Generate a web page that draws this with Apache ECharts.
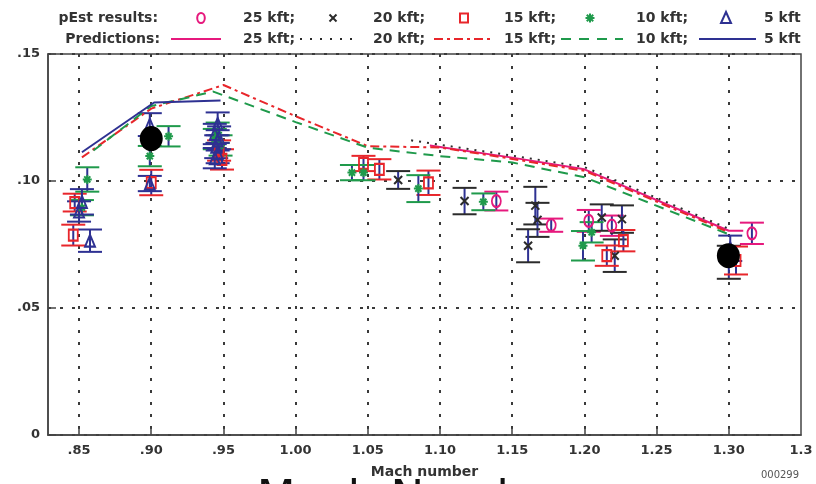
<!DOCTYPE html>
<html><head><meta charset="utf-8">
<script src="https://cdn.jsdelivr.net/npm/echarts@6/dist/echarts.min.js"></script>
<style>html,body{margin:0;padding:0;background:#fff}#c{width:816px;height:484px}</style>
</head><body><div id="c"></div>
<script>
// ---- axis ticks ----
const xTicks = [0.85, 0.90, 0.95, 1.00, 1.05, 1.10, 1.15, 1.20, 1.25, 1.30, 1.35];
const xTickLabels = ['.85', '.90', '.95', '1.00', '1.05', '1.10', '1.15', '1.20', '1.25', '1.30', '1.3'];
const yTicks = [0, 0.05, 0.10, 0.15];
const yTickLabels = ['0', '.05', '.10', '.15'];
const altitudes = ['25 kft;', '20 kft;', '15 kft;', '10 kft;', '5 kft'];

// ---- pEst results: [Mach, value, half error] ----
const pEst25 = [[1.139, 0.0921, 0.0037], [1.177, 0.0826, 0.0026], [1.203, 0.0843, 0.0043], [1.219, 0.0824, 0.0040], [1.316, 0.0794, 0.0042]];
const pEst20 = [[1.071, 0.1004, 0.0035], [1.117, 0.0921, 0.0052], [1.166, 0.0903, 0.0074], [1.1675, 0.0847, 0.0067], [1.161, 0.0745, 0.0065],
  [1.212, 0.0856, 0.0052], [1.226, 0.0850, 0.0054], [1.221, 0.0706, 0.0064], [1.300, 0.0680, 0.0065]];
const pEst15 = [[0.846, 0.0787, 0.0041], [0.847, 0.0915, 0.0035], [0.900, 0.0994, 0.0050], [0.947, 0.1120, 0.0040], [0.949, 0.1085, 0.0040],
  [1.047, 0.1069, 0.0030], [1.058, 0.1046, 0.0040], [1.092, 0.0993, 0.0048], [1.227, 0.0765, 0.0042], [1.2155, 0.0706, 0.0040], [1.305, 0.0687, 0.0055]];
const pEst10 = [[0.8557, 0.1006, 0.0048], [0.852, 0.0895, 0.0030], [0.899, 0.1098, 0.0040], [0.912, 0.1176, 0.0040],
  [0.946, 0.1190, 0.0040], [0.948, 0.1140, 0.0040], [0.944, 0.1165, 0.0040],
  [1.039, 0.1033, 0.0030], [1.047, 0.1033, 0.0030], [1.085, 0.0970, 0.0053], [1.130, 0.0918, 0.0033], [1.205, 0.0798, 0.0040], [1.199, 0.0745, 0.0058]];
const pEst5 = [[0.852, 0.0918, 0.0050], [0.8576, 0.0765, 0.0044], [0.850, 0.0880, 0.0040], [0.899, 0.1222, 0.0045], [0.899, 0.0990, 0.0030],
  [0.946, 0.1225, 0.0045], [0.944, 0.1185, 0.0040], [0.946, 0.1160, 0.0040], [0.945, 0.1135, 0.0045], [0.946, 0.1110, 0.0040],
  [0.944, 0.1090, 0.0040], [0.947, 0.1170, 0.0045], [1.301, 0.0735, 0.0050]];

// ---- predictions: [Mach, value] ----
const pred25 = [[1.093, 0.1140], [1.15, 0.1092], [1.20, 0.1046], [1.30, 0.0804], [1.31, 0.0804]];
const pred20 = [[1.08, 0.1160], [1.15, 0.1100], [1.20, 0.1055], [1.30, 0.0812]];
const pred15 = [[0.852, 0.1093], [0.90, 0.1285], [0.95, 0.1378], [1.00, 0.1255], [1.05, 0.1137], [1.10, 0.1132], [1.15, 0.1087], [1.20, 0.1040], [1.30, 0.0798]];
const pred10 = [[0.86, 0.1120], [0.90, 0.1295], [0.943, 0.1352], [1.00, 0.1232], [1.05, 0.1131], [1.10, 0.1098], [1.15, 0.1073], [1.20, 0.1015], [1.30, 0.0790]];
const pred5 = [[0.852, 0.1113], [0.902, 0.1309], [0.948, 0.1317]];

// ---- large reference points ----
const flightPoints = [[0.90, 0.1167], [1.2997, 0.0706]];

const NAVY = '#2e3192', PINK = '#e6197d', RED = '#e8262b', GREEN = '#1f9a4b', BLACK = '#2b2b2b', AXIS = '#444', TXT = '#333';
const FONT = 'DejaVu Sans';
const xSym = 'path://M0,0L10,10M10,0L0,10';
const starSym = 'path://M5,0L5,10M0,5L10,5M1.6,1.6L8.4,8.4M8.4,1.6L1.6,8.4';

function labelOf(ticks, labels) {
  return v => { const i = ticks.findIndex(t => Math.abs(t - v) < 1e-6); return i < 0 ? '' : labels[i]; };
}
function errSeries(name, data, capColor) {
  return {
    type: 'custom', name: name, data: data, z: 2, silent: true,
    encode: { x: 0, y: 1 },
    renderItem: function (params, api) {
      const x = api.value(0), y = api.value(1), e = api.value(2);
      const t = api.coord([x, y + e]), b = api.coord([x, y - e]);
      const hw = 12;
      return { type: 'group', children: [
        { type: 'line', shape: { x1: t[0], y1: t[1], x2: b[0], y2: b[1] }, style: { stroke: NAVY, lineWidth: 2 } },
        { type: 'line', shape: { x1: t[0] - hw, y1: t[1], x2: t[0] + hw, y2: t[1] }, style: { stroke: capColor, lineWidth: 2 } },
        { type: 'line', shape: { x1: b[0] - hw, y1: b[1], x2: b[0] + hw, y2: b[1] }, style: { stroke: capColor, lineWidth: 2 } }
      ] };
    }
  };
}
function markSeries(name, data, symbol, size, color, fill) {
  return { type: 'scatter', name: name, data: data, z: 3, symbol: symbol, symbolSize: size, silent: true,
    itemStyle: { color: fill || 'rgba(0,0,0,0)', borderColor: color, borderWidth: 2, opacity: 1 } };
}
function predSeries(name, data, color, type) {
  return { type: 'line', name: name, data: data, z: 4, showSymbol: false, silent: true,
    lineStyle: { color: color, width: 2, type: type } };
}

// ---- legend (graphic) ----
const L1 = 18, L2 = 39, TX = [243, 373, 504, 636, 764];
const tStyle = (x, y, text, align) => ({ type: 'text', x: x, y: y, style: { text: text, fill: TXT, font: 'bold 14px "' + FONT + '"', textAlign: align || 'left', textVerticalAlign: 'middle' } });
const seg = (x1, y1, x2, y2, color, dash) => ({ type: 'line', shape: { x1: x1, y1: y1, x2: x2, y2: y2 }, style: { stroke: color, lineWidth: 2, lineDash: dash || null } });
const graphics = [
  tStyle(158, L1, 'pEst results:', 'right'),
  tStyle(160, L2, 'Predictions:', 'right'),
  { type: 'ellipse', shape: { cx: 201, cy: L1, rx: 3.8, ry: 5 }, style: { fill: 'none', stroke: PINK, lineWidth: 2 } },
  seg(329.5, L1 - 3.5, 336.5, L1 + 3.5, BLACK), seg(336.5, L1 - 3.5, 329.5, L1 + 3.5, BLACK),
  { type: 'rect', shape: { x: 460, y: L1 - 4.5, width: 8, height: 9 }, style: { fill: 'none', stroke: RED, lineWidth: 2 } },
  seg(590, L1 - 4.5, 590, L1 + 4.5, GREEN), seg(585.5, L1, 594.5, L1, GREEN), seg(586.8, L1 - 3.2, 593.2, L1 + 3.2, GREEN), seg(593.2, L1 - 3.2, 586.8, L1 + 3.2, GREEN),
  { type: 'polygon', shape: { points: [[726, L1 - 6], [731, L1 + 5], [721, L1 + 5]] }, style: { fill: 'none', stroke: NAVY, lineWidth: 2 } },
  seg(171, L2, 221, L2, PINK), seg(300, L2, 352, L2, BLACK, [2, 8]), seg(434, L2, 494, L2, RED, [9, 4, 3, 4]), seg(561, L2, 623, L2, GREEN, [10, 8]), seg(699, L2, 756, L2, NAVY),
  { type: 'text', x: 780, y: 475, style: { text: '000299', fill: '#555', font: '10px "' + FONT + '"', textAlign: 'center', textVerticalAlign: 'middle' } },
  { type: 'text', x: 414, y: 500, z: -1, style: { text: 'Mach Number', fill: '#111', font: '45px "' + FONT + '"', textAlign: 'center', textVerticalAlign: 'middle' } }
];
altitudes.forEach((a, i) => { graphics.push(tStyle(TX[i], L1, a)); graphics.push(tStyle(TX[i], L2, a)); });

const gridDots = { color: '#3a3a3a', width: 2, type: [3, 9] };
const option = {
  animation: false,
  backgroundColor: '#fff',
  grid: { left: 48, top: 54, right: 15, bottom: 47, show: true, borderColor: AXIS, borderWidth: 1.5, backgroundColor: 'transparent' },
  xAxis: {
    type: 'value', min: 0.8285, max: 1.35,
    name: 'Mach number', nameLocation: 'middle', nameGap: 30,
    nameTextStyle: { color: TXT, fontFamily: FONT, fontWeight: 'bold', fontSize: 14 },
    axisLine: { lineStyle: { color: AXIS, width: 1.5 } },
    axisTick: { inside: true, length: 7, customValues: xTicks.slice(0, 10), lineStyle: { color: AXIS, width: 1.5 } },
    axisLabel: { customValues: xTicks, formatter: labelOf(xTicks, xTickLabels), color: TXT, fontFamily: FONT, fontWeight: 'bold', fontSize: 13, margin: 9 },
    splitLine: { show: true, lineStyle: gridDots }
  },
  yAxis: {
    type: 'value', min: 0, max: 0.15, interval: 0.05,
    axisLine: { show: true, lineStyle: { color: AXIS, width: 1.5 } },
    axisTick: { show: true, inside: true, length: 8, lineStyle: { color: AXIS, width: 1.5 } },
    axisLabel: { formatter: labelOf(yTicks, yTickLabels), color: TXT, fontFamily: FONT, fontWeight: 'bold', fontSize: 13, margin: 8 },
    splitLine: { show: true, lineStyle: gridDots }
  },
  graphic: graphics,
  series: [
    errSeries('e25', pEst25, PINK), errSeries('e20', pEst20, BLACK), errSeries('e15', pEst15, RED), errSeries('e10', pEst10, GREEN), errSeries('e5', pEst5, NAVY),
    markSeries('pEst 25 kft', pEst25, 'circle', [9, 12], PINK),
    markSeries('pEst 20 kft', pEst20, xSym, 8, BLACK),
    markSeries('pEst 15 kft', pEst15, 'rect', [9, 11], RED),
    markSeries('pEst 10 kft', pEst10, starSym, 9, GREEN),
    markSeries('pEst 5 kft', pEst5, 'triangle', [10, 12], NAVY),
    predSeries('Pred 25 kft', pred25, PINK, 'solid'),
    predSeries('Pred 20 kft', pred20, BLACK, [2, 6]),
    predSeries('Pred 15 kft', pred15, RED, [9, 4, 3, 4]),
    predSeries('Pred 10 kft', pred10, GREEN, [10, 7]),
    predSeries('Pred 5 kft', pred5, NAVY, 'solid'),
    { type: 'scatter', name: 'flight', data: flightPoints, symbol: 'circle', symbolSize: [23, 25], z: 6, silent: true, itemStyle: { color: '#000', opacity: 1 } }
  ]
};
const chart = echarts.init(document.getElementById('c'));
chart.setOption(option);
</script>
</body></html>
